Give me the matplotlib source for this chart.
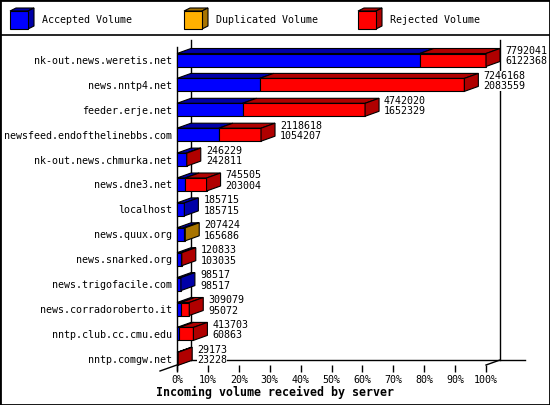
import matplotlib.pyplot as plt
from matplotlib.patches import Polygon, Rectangle
from matplotlib.lines import Line2D

servers = ["nk-out.news.weretis.net", "news.nntp4.net", "feeder.erje.net",
           "newsfeed.endofthelinebbs.com", "nk-out.news.chmurka.net", "news.dne3.net",
           "localhost", "news.quux.org", "news.snarked.org", "news.trigofacile.com",
           "news.corradoroberto.it", "nntp.club.cc.cmu.edu", "nntp.comgw.net"]
total = [7792041, 7246168, 4742020, 2118618, 246229, 745505, 185715,
         207424, 120833, 98517, 309079, 413703, 29173]
accepted = [6122368, 2083559, 1652329, 1054207, 242811, 203004, 185715,
            165686, 103035, 98517, 95072, 60863, 23228]
duplicated = [0, 0, 0, 0, 0, 0, 0, 41738, 0, 0, 0, 0, 0]
rejected = [t - a - d for t, a, d in zip(total, accepted, duplicated)]

series_names = ["Accepted Volume", "Duplicated Volume", "Rejected Volume"]
front_cols = ["#0000ff", "#ffb000", "#ff0000"]
dark_cols = ["#0000a8", "#a87400", "#b00000"]
xticks = [0, 10, 20, 30, 40, 50, 60, 70, 80, 90, 100]
xlabel = "Incoming volume received by server"

MONO = "DejaVu Sans Mono"
W, H = 550, 405
fig = plt.figure(figsize=(W / 100, H / 100), dpi=100)

# frame + legend strip
fig.add_artist(Rectangle((0, 0), 1, 1, transform=fig.transFigure, fill=False,
                         edgecolor="black", lw=2))
fig.add_artist(Line2D([0, 1], [1 - 35 / H] * 2, transform=fig.transFigure,
                      color="black", lw=1.2))

lax = fig.add_axes([0, 1 - 35 / H, 1, 35 / H])
lax.set_xlim(0, W)
lax.set_ylim(35, 0)
lax.axis("off")
for name, fc, dc, x0, tx in zip(series_names, front_cols, dark_cols,
                                [10, 184, 358], [42, 216, 390]):
    y0, s, d, e = 11, 18, 6, 3
    lax.add_patch(Polygon([(x0, y0), (x0 + s, y0), (x0 + s + d, y0 - e), (x0 + d, y0 - e)],
                          facecolor=dc, edgecolor="black", lw=0.8))
    lax.add_patch(Polygon([(x0 + s, y0), (x0 + s + d, y0 - e), (x0 + s + d, y0 + s - e),
                           (x0 + s, y0 + s)], facecolor=dc, edgecolor="black", lw=0.8))
    lax.add_patch(Rectangle((x0, y0), s, s, facecolor=fc, edgecolor="black", lw=0.8))
    lax.text(tx, y0 + s / 2, name, family=MONO, fontsize=7.2, va="center", ha="left")

# main plot: front plane 177..486 px, 45..365 px
px_left, px_right, px_top, px_bot = 177, 486, 45, 365
ax = fig.add_axes([px_left / W, 1 - px_bot / H, (px_right - px_left) / W,
                   (px_bot - px_top) / H])
step = 24.9
y_top = (px_top - 60) / step
y_bot = (px_bot - 60) / step
ax.set_xlim(0, 100)
ax.set_ylim(y_bot, y_top)
for sp in ax.spines.values():
    sp.set_visible(False)
ax.patch.set_alpha(0)

px_x = 100 / (px_right - px_left)  # percent per pixel
px_y = 1 / step                      # units per pixel
dx = 14 * px_x
dy = 5 * px_y
h = 6.5 * px_y

# 3D frame lines
kw = dict(color="black", lw=1, clip_on=False, zorder=1)
ax.add_line(Line2D([0, 0], [y_top + 0.08, y_bot + 5 * px_y], **kw))
ax.add_line(Line2D([dx, dx], [y_top - dy, y_bot - dy], **kw))
ax.add_line(Line2D([100 + dx, 100 + dx], [y_top - dy, y_bot - dy], **kw))
ax.add_line(Line2D([dx, 100 + dx + 25 * px_x], [y_bot - dy, y_bot - dy], **kw))
ax.add_line(Line2D([-17 * px_x, dx], [y_bot + 6 * px_y, y_bot - dy], **kw))
ax.add_line(Line2D([100, 100 + dx], [y_bot, y_bot - dy], **kw))

vmax = max(total)
for i in range(len(servers)):
    segs = [accepted[i], duplicated[i], rejected[i]]
    start = 0.0
    last = 0
    for k, v in enumerate(segs):
        if v <= 0:
            continue
        w = v / vmax * 100
        ax.add_patch(Polygon([(start, i - h), (start + w, i - h),
                              (start + w + dx, i - h - dy), (start + dx, i - h - dy)],
                             facecolor=dark_cols[k], edgecolor="black", lw=0.8,
                             clip_on=False, zorder=3))
        ax.add_patch(Rectangle((start, i - h), w, 2 * h, facecolor=front_cols[k],
                               edgecolor="black", lw=0.8, clip_on=False, zorder=3))
        start += w
        last = k
    ax.add_patch(Polygon([(start, i - h), (start + dx, i - h - dy),
                          (start + dx, i + h - dy), (start, i + h)],
                         facecolor=dark_cols[last], edgecolor="black", lw=0.8,
                         clip_on=False, zorder=3))
    lx = start + dx + 5 * px_x
    ax.text(lx, i - 9 * px_y, str(total[i]), family=MONO, fontsize=7.2,
            va="center", ha="left", zorder=4,
            bbox=dict(facecolor="white", edgecolor="none", pad=0))
    ax.text(lx, i + 1.5 * px_y, str(accepted[i]), family=MONO, fontsize=7.2,
            va="center", ha="left", zorder=4,
            bbox=dict(facecolor="white", edgecolor="none", pad=0))

ax.set_yticks(range(len(servers)))
ax.set_yticklabels(servers, family=MONO, fontsize=7.2)
ax.tick_params(axis="y", length=0, pad=3.5)
ax.set_xticks(xticks)
ax.set_xticklabels([f"{t}%" for t in xticks], family=MONO, fontsize=7.2)
ax.tick_params(axis="x", length=5, width=1, pad=2, direction="out")

fig.text(0.5, 1 - 392 / H, xlabel, family=MONO, fontsize=8.4, fontweight="bold",
         ha="center", va="center")

fig.savefig("out.png", dpi=100)
